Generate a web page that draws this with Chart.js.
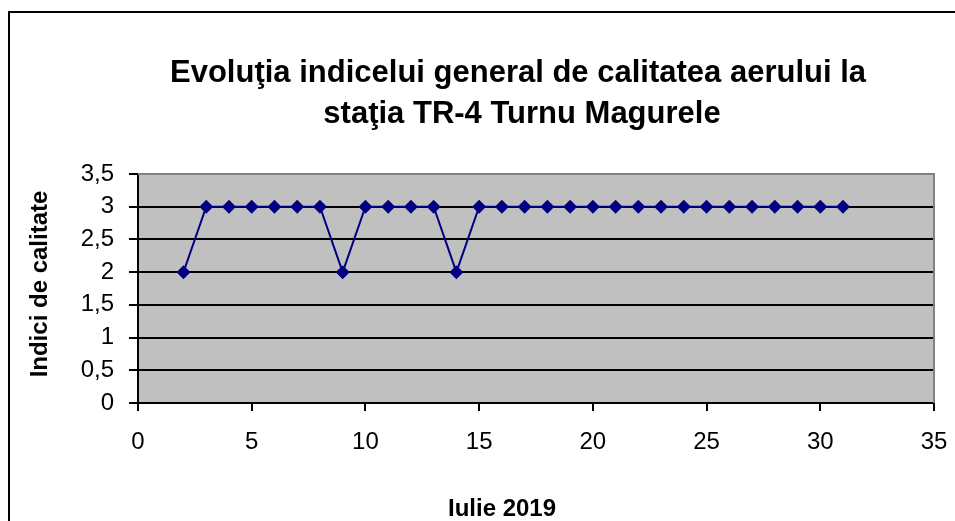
<!DOCTYPE html>
<html>
<head>
<meta charset="utf-8">
<script src="https://cdn.jsdelivr.net/npm/chart.js@4.4.0/dist/chart.umd.min.js"></script>
<style>
  html, body { margin: 0; padding: 0; background: #fff; }
</style>
</head>
<body>
<canvas id="myChart" width="955" height="521"></canvas>
<script>
const titleLines = ["Evoluţia indicelui general de calitatea aerului la", "staţia TR-4 Turnu Magurele"];
const xAxisTitle = "Iulie 2019";
const yAxisTitle = "Indici de calitate";

const days = [2, 3, 4, 5, 6, 7, 8, 9, 10, 11, 12, 13, 14, 15, 16, 17, 18, 19, 20, 21, 22, 23, 24, 25, 26, 27, 28, 29, 30, 31];
const qualityIndex = [2, 3, 3, 3, 3, 3, 3, 2, 3, 3, 3, 3, 2, 3, 3, 3, 3, 3, 3, 3, 3, 3, 3, 3, 3, 3, 3, 3, 3, 3];

const xTicks = { min: 0, max: 35, step: 5 };
const yTicks = { min: 0, max: 3.5, step: 0.5 };

const FONT = "'Liberation Sans', Arial, sans-serif";

// grey plot area, outer frame and the titles (placed like the Excel original)
const excelLook = {
  id: "excelLook",
  beforeDraw(chart) {
    const { ctx, chartArea: a } = chart;
    ctx.save();
    ctx.fillStyle = "#c0c0c0";
    ctx.fillRect(a.left, a.top, a.right - a.left, a.bottom - a.top);
    ctx.restore();
  },
  afterDraw(chart) {
    const { ctx, chartArea: a } = chart;
    ctx.save();
    // grey border top / right of plot area
    ctx.strokeStyle = "#808080";
    ctx.lineWidth = 2;
    ctx.beginPath();
    ctx.moveTo(a.left, a.top);
    ctx.lineTo(a.right, a.top);
    ctx.lineTo(a.right, a.bottom);
    ctx.stroke();

    // outer frame
    ctx.strokeStyle = "#000";
    ctx.lineWidth = 2;
    ctx.strokeRect(9, 12, 970, 540);

    ctx.fillStyle = "#000";
    ctx.textAlign = "center";
    ctx.textBaseline = "alphabetic";
    ctx.font = "bold 31px " + FONT;
    ctx.fillText(titleLines[0], 518, 82);
    ctx.fillText(titleLines[1], 522, 123);

    ctx.font = "bold 24px " + FONT;
    ctx.fillText(xAxisTitle, 502, 516);

    ctx.translate(47, 284);
    ctx.rotate(-Math.PI / 2);
    ctx.fillText(yAxisTitle, 0, 0);
    ctx.restore();
  }
};

const ctx = document.getElementById("myChart").getContext("2d");
new Chart(ctx, {
  type: "scatter",
  data: {
    datasets: [
      {
        label: "Indice",
        data: days.map((d, i) => ({ x: d, y: qualityIndex[i] })),
        showLine: true,
        borderColor: "#000080",
        borderWidth: 2,
        backgroundColor: "#000080",
        pointStyle: "rectRot",
        pointRadius: 7,
        pointBorderWidth: 0,
        tension: 0,
      },
    ],
  },
  options: {
    responsive: false,
    animation: false,
    layout: { padding: { left: 10, right: 21, top: 174, bottom: 0 } },
    plugins: {
      legend: { display: false },
      title: { display: false },
      tooltip: { enabled: false },
    },
    scales: {
      x: {
        type: "linear",
        min: xTicks.min,
        max: xTicks.max,
        ticks: {
          stepSize: xTicks.step,
          color: "#000",
          font: { family: FONT, size: 24 },
          padding: 17,
          maxRotation: 0,
        },
        grid: { drawOnChartArea: false, tickLength: 8, tickColor: "#000", lineWidth: 2 },
        border: { color: "#000", width: 2 },
        afterFit(scale) {
          scale.height = 118;
          scale.paddingLeft = 0;
          scale.paddingRight = 0;
        },
      },
      y: {
        min: yTicks.min,
        max: yTicks.max,
        ticks: {
          stepSize: yTicks.step,
          color: "#000",
          font: { family: FONT, size: 24 },
          padding: 15,
          callback: (v) => String(v).replace(".", ","),
        },
        grid: {
          color: (c) => (c.tick && c.tick.value === yTicks.max ? "#808080" : "#000"),
          tickColor: "#000",
          lineWidth: 2,
          tickLength: 9,
        },
        border: { color: "#000", width: 2 },
        afterFit(scale) {
          scale.width = 128;
          scale.paddingTop = 0;
          scale.paddingBottom = 0;
        },
      },
    },
  },
  plugins: [excelLook],
});
</script>
</body>
</html>
